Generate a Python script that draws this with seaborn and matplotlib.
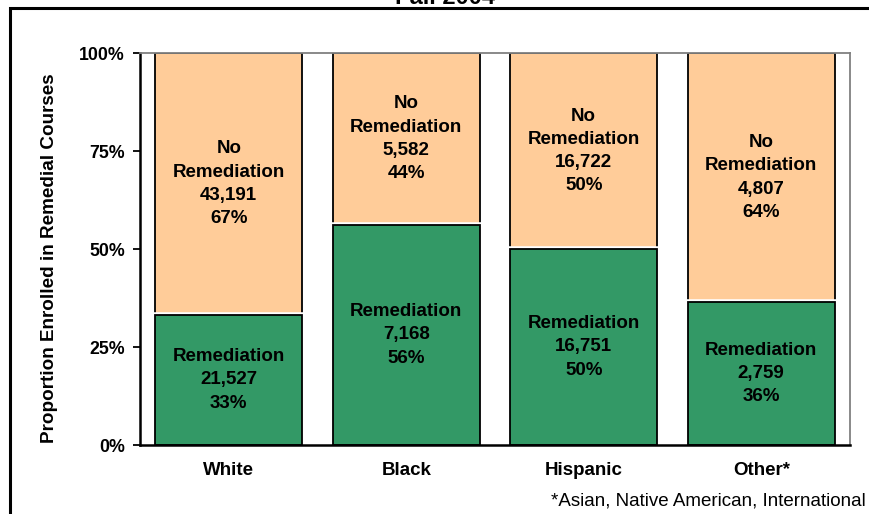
import matplotlib
matplotlib.use("Agg")
import matplotlib.pyplot as plt
import matplotlib.patches as mpatches
import seaborn as sns
import pandas as pd

categories = ["White", "Black", "Hispanic", "Other*"]
remediation = [21527, 7168, 16751, 2759]
no_remediation = [43191, 5582, 16722, 4807]
rem_pct_labels = ["33%", "56%", "50%", "36%"]
norem_pct_labels = ["67%", "44%", "50%", "64%"]
yticks = [0, 0.25, 0.5, 0.75, 1.0]
ytick_labels = ["0%", "25%", "50%", "75%", "100%"]

sns.set_style("white")
plt.rcParams['font.family'] = ['Liberation Sans', 'DejaVu Sans']
plt.rcParams['text.color'] = 'black'
plt.rcParams['axes.labelcolor'] = 'black'
plt.rcParams['xtick.color'] = 'black'
plt.rcParams['ytick.color'] = 'black'

totals = [r + n for r, n in zip(remediation, no_remediation)]
df = pd.DataFrame({
    "cat": categories,
    "rem": [r / t for r, t in zip(remediation, totals)],
    "all": [t / t for t in totals],
})

fig = plt.figure(figsize=(8.69, 5.14), dpi=100)
W, H = 869, 514
ax = fig.add_axes([140 / W, 1 - 445 / H, 710 / W, 392 / H])

GREEN = "#339966"
ORANGE = "#FFCC99"

sns.barplot(data=df, x="cat", y="all", color=ORANGE, saturation=1, width=0.83,
            edgecolor="black", linewidth=1.3, ax=ax)
# white separation halo, then the green segment with black edge
sns.barplot(data=df, x="cat", y="rem", color=GREEN, saturation=1, width=0.83,
            edgecolor="white", linewidth=4.0, ax=ax)
sns.barplot(data=df, x="cat", y="rem", color=GREEN, saturation=1, width=0.83,
            edgecolor="black", linewidth=1.3, ax=ax)

ax.set_xlim(-0.5, 3.5)
ax.set_ylim(0, 1)
ax.set_yticks(yticks)
ax.set_yticklabels(ytick_labels, fontweight="bold", fontsize=12.8)
ax.tick_params(axis="y", direction="out", length=5, width=1.3, colors="black", pad=6, left=True)
ax.tick_params(axis="x", length=0, pad=12, colors="black")
for lab in ax.get_xticklabels():
    lab.set_fontweight("bold")
    lab.set_fontsize(13.5)
ax.set_xlabel("")
ax.set_ylabel("Proportion Enrolled in Remedial Courses", fontweight="bold", fontsize=13.6)
ax.yaxis.set_label_coords((58 - 140) / 710, (445 - 258) / 392)

for s in ["top", "right"]:
    ax.spines[s].set_visible(True)
    ax.spines[s].set_color("#808080")
    ax.spines[s].set_linewidth(1.3)
for s in ["left", "bottom"]:
    ax.spines[s].set_color("black")
    ax.spines[s].set_linewidth(1.8)

for i, cat in enumerate(categories):
    r = df["rem"][i]
    ax.text(i, r / 2, "Remediation\n{:,}\n{}".format(remediation[i], rem_pct_labels[i]),
            ha="center", va="center", fontweight="bold", fontsize=13.5, linespacing=1.48)
    ax.text(i, r + (1 - r) / 2, "No\nRemediation\n{:,}\n{}".format(no_remediation[i], norem_pct_labels[i]),
            ha="center", va="center", fontweight="bold", fontsize=13.5, linespacing=1.48)

fig.text(866 / W, 1 - 501 / H, "*Asian, Native American, International", ha="right",
         va="center", fontsize=13.5)
fig.text(445 / W, 1 - 4 / H, "Fall 2004", ha="center", va="baseline", fontweight="bold", fontsize=17)

border = mpatches.Rectangle((10 / W, -0.5), 2.0, 1 - 8 / H + 0.5, transform=fig.transFigure,
                            fill=False, edgecolor="black", linewidth=2.2, clip_on=False)
fig.patches.append(border)

fig.savefig("out.png", dpi=100)
